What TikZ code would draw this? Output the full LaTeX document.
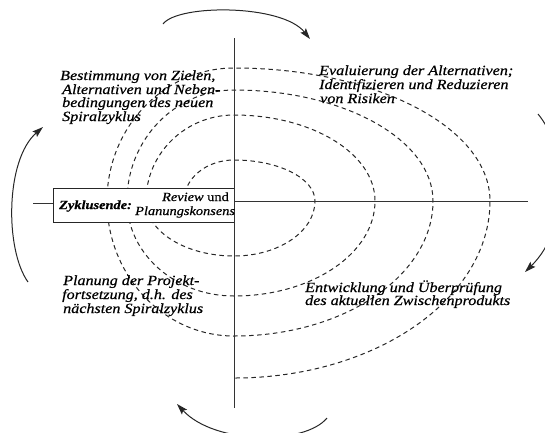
\documentclass[tikz,border=0pt]{standalone}
\usepackage{fontspec}
\newfontfamily\lab{Liberation Serif}[FakeStretch=1.15,FakeBold=0.6]
\usetikzlibrary{arrows.meta}
\begin{document}
\begin{tikzpicture}[x=1pt,y=-1pt,
  spiral/.style={line width=1pt, dash pattern=on 4.5pt off 3.5pt, black!85},
  axis/.style={line width=1pt, black!80},
  cyc/.style={line width=1pt, black!85, -{Stealth[length=11pt,width=7pt,inset=2pt]}},
  lbl/.style={inner sep=0pt, anchor=base west, font=\lab\itshape\fontsize{14}{14}\selectfont},
  boxlbl/.style={inner sep=0pt, font=\lab\fontsize{12.5}{12.5}\selectfont}]
\useasboundingbox (0,0) rectangle (545,432);
\clip (0,0) rectangle (545,432);

% spiral
\draw[spiral] (184,201)
  arc[start angle=180, end angle=270, x radius=50,  y radius=41]
  arc[start angle=270, end angle=360, x radius=81,  y radius=41]
  arc[start angle=0,   end angle=90,  x radius=81,  y radius=55]
  arc[start angle=90,  end angle=180, x radius=88,  y radius=55]
  arc[start angle=180, end angle=270, x radius=88,  y radius=86]
  arc[start angle=270, end angle=360, x radius=141, y radius=86]
  arc[start angle=0,   end angle=90,  x radius=141, y radius=95]
  arc[start angle=90,  end angle=180, x radius=107, y radius=95]
  arc[start angle=180, end angle=270, x radius=107, y radius=111]
  arc[start angle=270, end angle=360, x radius=199, y radius=111]
  arc[start angle=0,   end angle=90,  x radius=199, y radius=135]
  arc[start angle=90,  end angle=180, x radius=127, y radius=135]
  arc[start angle=180, end angle=270, x radius=127, y radius=133]
  arc[start angle=270, end angle=360, x radius=256, y radius=133]
  arc[start angle=0,   end angle=90,  x radius=256, y radius=177];

% box
\node[draw, line width=1pt, black!85, fill=white, minimum width=181pt, minimum height=34pt,
      inner sep=0pt, anchor=north west] (box) at (53,188) {};

% axes
\coordinate (o) at (234,201);
\coordinate (vt) at (234,38);
\coordinate (vb) at (234,408);
\coordinate (he) at (528,201);
\coordinate (hs) at (33,203);
\draw[axis] (vt) -- (vb);
\draw[axis] (o) -- (he);
\draw[axis] (hs) -- (hs -| box.west);

% cycle arrows
\coordinate (a1s) at (163,24);  \coordinate (a1e) at (310,39);
\coordinate (a2s) at (538,114); \coordinate (a2e) at (525,272);
\coordinate (a3s) at (327,418); \coordinate (a3e) at (177,404);
\coordinate (a4s) at (28,282);  \coordinate (a4e) at (43,127);
\draw[cyc] (a1s) .. controls (178,4) and (282,4) .. (a1e);
\draw[cyc] (a2s) .. controls (568,150) and (570,228) .. (a2e);
\draw[cyc] (a3s) .. controls (305,445) and (215,445) .. (a3e);
\draw[cyc] (a4s) .. controls (5,250) and (5,160) .. (a4e);

% box texts
\node[boxlbl, anchor=base west] (zy) at (59,209) {\bfseries\itshape Zyklusende:};
\node[boxlbl, anchor=base east] (rev) at (229,201) {\itshape Review\upshape{} und};
\node[boxlbl, anchor=base west] (plk) at (135,215) {\itshape Planungskonsens};

% quadrant texts
\node[lbl] (ul1) at (60,80)  {Bestimmung von Zielen,};
\node[lbl] (ul2) at (62,94)  {Alternativen und Neben-};
\node[lbl] (ul3) at (62,107) {bedingungen des neuen};
\node[lbl] (ul4) at (62,121) {Spiralzyklus};

\node[lbl] (ur1) at (319,75)  {Evaluierung der Alternativen;};
\node[lbl] (ur2) at (319,89)  {Identifizieren und Reduzieren};
\node[lbl] (ur3) at (320,103) {von Risiken};

\node[lbl] (ll1) at (63,285) {Planung der Projekt-};
\node[lbl] (ll2) at (62,299) {fortsetzung, d.h. des};
\node[lbl] (ll3) at (63,313) {nächsten Spiralzyklus};

\node[lbl] (lr1) at (305,292) {Entwicklung und Überprüfung};
\node[lbl] (lr2) at (305,305) {des aktuellen Zwischenprodukts};
\end{tikzpicture}
\end{document}
